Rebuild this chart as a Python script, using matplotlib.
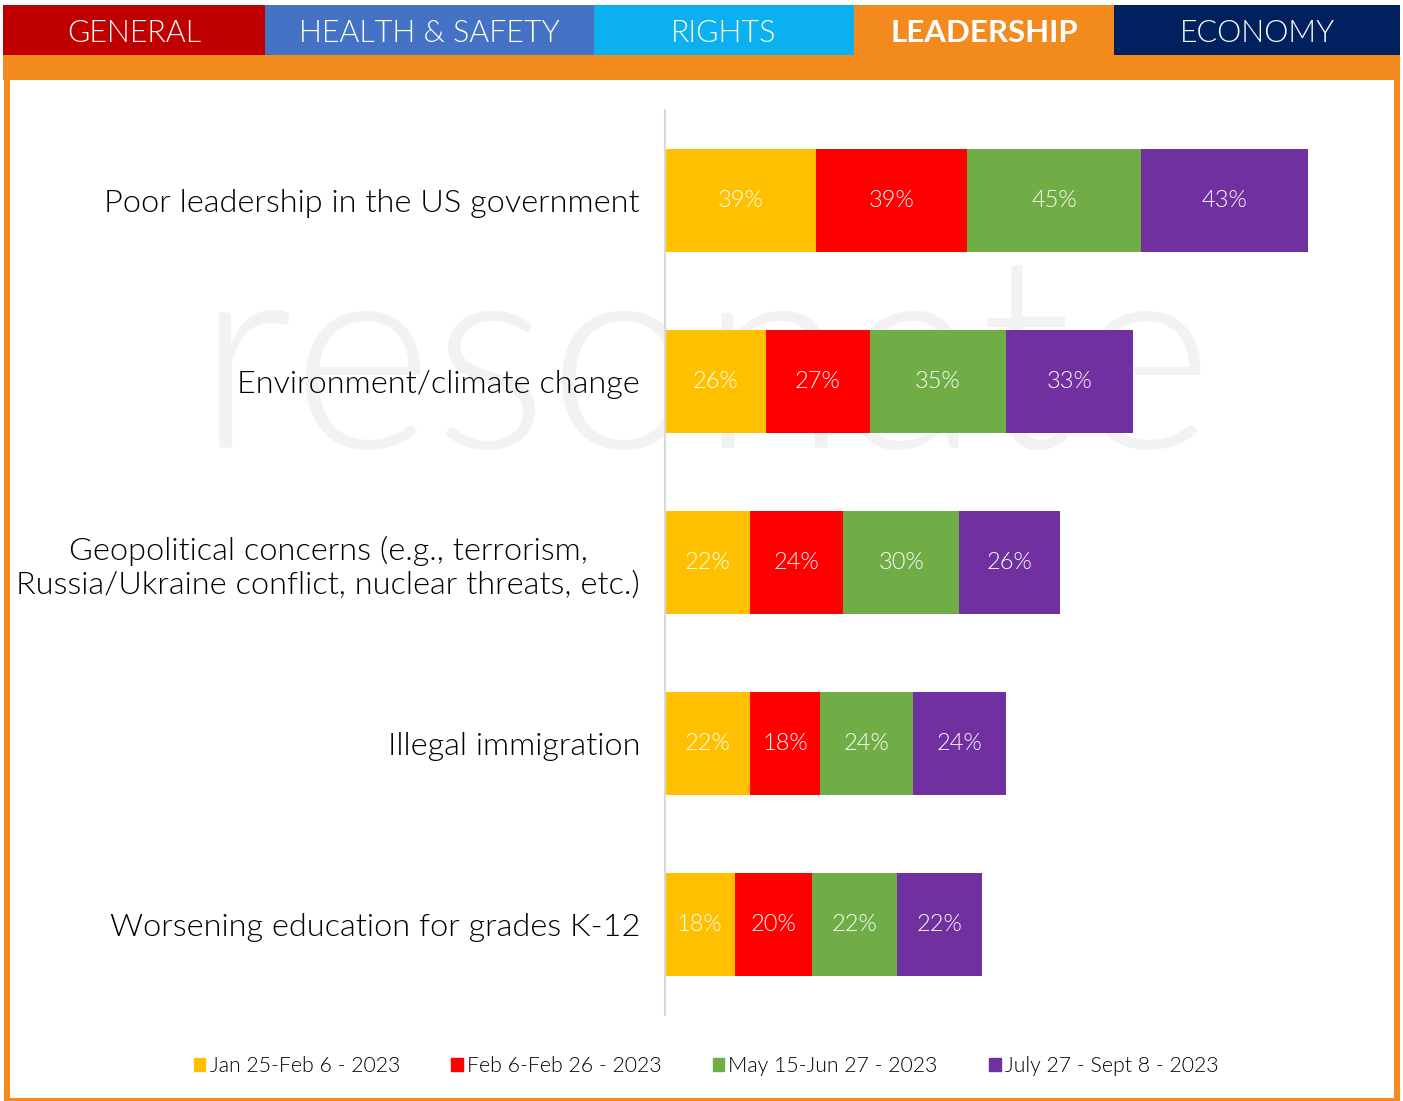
import matplotlib.pyplot as plt
from matplotlib.patches import Rectangle, Patch
import numpy as np

plt.rcParams['font.family'] = ['Lato', 'DejaVu Sans']

W, H = 1403, 1101

categories = ['Poor leadership in the US government',
              'Environment/climate change',
              'Geopolitical concerns (e.g., terrorism,\nRussia/Ukraine conflict, nuclear threats, etc.)',
              'Illegal immigration',
              'Worsening education for grades K-12']
periods = ['Jan 25-Feb 6 - 2023', 'Feb 6-Feb 26 - 2023',
           'May 15-Jun 27 - 2023', 'July 27 - Sept 8 - 2023']
jan_feb = [39, 26, 22, 22, 18]
feb = [39, 27, 24, 18, 20]
may_jun = [45, 35, 30, 24, 22]
jul_sep = [43, 33, 26, 24, 22]
series = [jan_feb, feb, may_jun, jul_sep]
colors = ['#FFC000', '#FF0000', '#70AD47', '#7030A0']

tabs = ['GENERAL', 'HEALTH & SAFETY', 'RIGHTS', 'LEADERSHIP', 'ECONOMY']
tab_colors = ['#C00000', '#4472C4', '#0AB0EF', '#F28A1E', '#002060']
tab_edges = [3, 265, 594, 854, 1114, 1400]
orange = '#F28A1E'
LW = 300  # light weight

fig = plt.figure(figsize=(W / 100, H / 100), dpi=100)


def box(x0, y0, x1, y1, color, z=1):
    fig.add_artist(Rectangle((x0 / W, 1 - y1 / H), (x1 - x0) / W, (y1 - y0) / H,
                             transform=fig.transFigure, color=color, lw=0, zorder=z))


# header tabs
for i, t in enumerate(tabs):
    bot = 58 if t == 'ECONOMY' else 56
    box(tab_edges[i], 5, tab_edges[i + 1], bot, tab_colors[i])
    fig.text((tab_edges[i] + tab_edges[i + 1]) / 2 / W, 1 - 33 / H, t,
             color='white', fontsize=22.5 if t == 'LEADERSHIP' else 22,
             fontweight='bold' if t == 'LEADERSHIP' else LW,
             ha='center', va='center')

# orange band and panel border
box(3, 55, 1400, 80, orange)
box(4, 80, 10, 1101, orange)
box(1394, 80, 1400, 1101, orange)
box(4, 1098, 1400, 1101, orange)

# watermark on a background axes
bg = fig.add_axes([0, 0, 1, 1], zorder=0)
bg.axis('off')
bg.text(705 / W, 1 - 373 / H, 'resonate', fontsize=195, color='#F2F2F2',
        fontweight=LW, ha='center', va='center', transform=bg.transAxes)

ax = fig.add_axes([665 / W, 1 - 1015 / H, (1389 - 665) / W, (1015 - 110) / H], zorder=2)
ax.patch.set_alpha(0)
y = np.arange(len(categories))
left = np.zeros(len(categories))
for vals, c in zip(series, colors):
    vals = np.array(vals)
    bars = ax.barh(y, vals, left=left, height=0.567, color=c, zorder=2)
    ax.bar_label(bars, labels=[f'{v}%' for v in vals], label_type='center',
                 color='white', fontsize=17, fontweight=LW)
    left += vals

ax.set_xlim(0, 187)
ax.set_ylim(4.5, -0.5)
ax.set_yticks(y)
ax.set_yticklabels(categories, fontsize=23.4, fontweight=LW, color='black',
                   multialignment='center', linespacing=1.2)
ax.tick_params(axis='y', length=0, pad=18)
ax.set_xticks([])
for s in ['top', 'right', 'bottom']:
    ax.spines[s].set_visible(False)
ax.spines['left'].set_color('#D9D9D9')
ax.spines['left'].set_linewidth(1.5)

handles = [Patch(color=c, label=p) for c, p in zip(colors, periods)]
leg = fig.legend(handles=handles, loc='center', bbox_to_anchor=(706 / W, 1 - 1066 / H),
                 ncol=4, frameon=False, handlelength=0.55, handleheight=0.55,
                 handletextpad=0.2, columnspacing=2.4, prop={'weight': LW, 'size': 15.3})
leg.set_zorder(3)

fig.savefig('out.png', dpi=100)
